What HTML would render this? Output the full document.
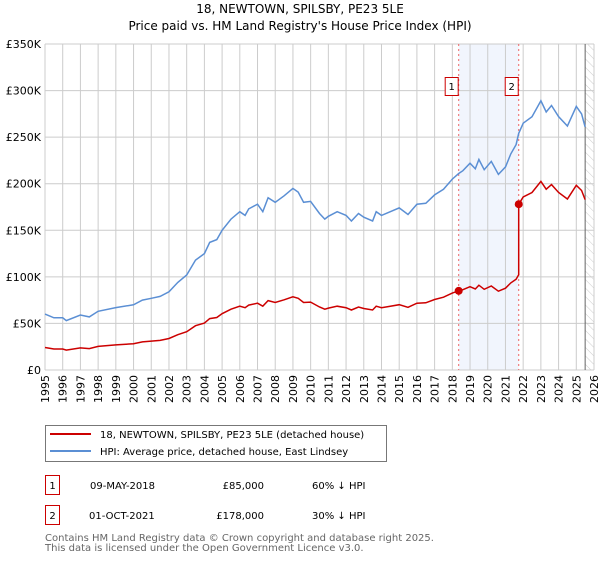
<!DOCTYPE html>
<html><head><meta charset="utf-8">
<style>
body{margin:0;background:#fff;font-family:"DejaVu Sans","Liberation Sans",sans-serif;}
svg text{font-family:"DejaVu Sans","Liberation Sans",sans-serif;}
</style></head>
<body>
<svg id="c" width="600" height="560" xmlns="http://www.w3.org/2000/svg">
<defs>
<pattern id="hatch" width="6" height="6" patternUnits="userSpaceOnUse" patternTransform="rotate(-45)">
<line x1="0" y1="0" x2="0" y2="6" stroke="#ccc" stroke-width="1"/>
</pattern>
</defs>
<text x="300" y="13" font-size="12" text-anchor="middle">18, NEWTOWN, SPILSBY, PE23 5LE</text>
<text x="300" y="30" font-size="12" text-anchor="middle">Price paid vs. HM Land Registry's House Price Index (HPI)</text>
<g id="grid"></g>
<g id="marks"></g>
<g id="axes"></g>
<g>
<rect x="45.5" y="425.5" width="341" height="36" fill="#fff" stroke="#777"/>
<line x1="50" y1="434" x2="91" y2="434" stroke="#cc0000" stroke-width="2"/>
<text x="100" y="438" font-size="10">18, NEWTOWN, SPILSBY, PE23 5LE (detached house)</text>
<line x1="50" y1="451" x2="91" y2="451" stroke="#5b8fd4" stroke-width="2"/>
<text x="100" y="455" font-size="10">HPI: Average price, detached house, East Lindsey</text>
</g>
<g font-size="10">
<rect x="45.5" y="475.5" width="14" height="19" fill="#fff" stroke="#cc0000"/>
<text x="52.5" y="489" text-anchor="middle">1</text>
<text x="90" y="489">09-MAY-2018</text>
<text x="264" y="489" text-anchor="end">£85,000</text>
<text x="312" y="489">60% ↓ HPI</text>
</g>
<g font-size="10">
<rect x="45.5" y="505.5" width="14" height="19" fill="#fff" stroke="#cc0000"/>
<text x="52.5" y="519" text-anchor="middle">2</text>
<text x="89" y="519">01-OCT-2021</text>
<text x="264" y="519" text-anchor="end">£178,000</text>
<text x="312" y="519">30% ↓ HPI</text>
</g>
<text x="45" y="541" font-size="10" fill="#666">Contains HM Land Registry data © Crown copyright and database right 2025.</text>
<text x="45" y="551" font-size="10" fill="#666">This data is licensed under the Open Government Licence v3.0.</text>
</svg>
<script>
const hpiYears=[1995.0,1995.5,1996.0,1996.2,1997.0,1997.5,1998.0,1999.0,2000.0,2000.5,2001.0,2001.5,2002.0,2002.5,2003.0,2003.5,2004.0,2004.3,2004.7,2005.0,2005.5,2006.0,2006.3,2006.5,2007.0,2007.3,2007.6,2008.0,2008.5,2009.0,2009.3,2009.6,2010.0,2010.5,2010.8,2011.0,2011.5,2012.0,2012.3,2012.7,2013.0,2013.5,2013.7,2014.0,2014.5,2015.0,2015.5,2016.0,2016.5,2017.0,2017.5,2018.0,2018.36,2018.6,2019.0,2019.3,2019.5,2019.8,2020.2,2020.6,2021.0,2021.3,2021.6,2021.75,2022.0,2022.5,2023.0,2023.3,2023.6,2024.0,2024.5,2025.0,2025.3,2025.5];
const hpiValues=[60,56,56,53,59,57,63,67,70,75,77,79,84,94,102,118,125,137,140,150,162,170,166,173,178,170,185,180,187,195,191,180,181,168,162,165,170,166,160,168,164,160,170,166,170,174,167,178,179,188,194,205,211,214,222,216,226,215,224,210,218,232,242,254,265,272,289,277,284,272,262,283,275,261];
const saleYears=[2018.36,2021.75];
const salePrices=[85,178];
const saleLabels=["1","2"];
const yTicks=[0,50,100,150,200,250,300,350];
const yTickLabels=["£0","£50K","£100K","£150K","£200K","£250K","£300K","£350K"];
const xTicks=[1995,1996,1997,1998,1999,2000,2001,2002,2003,2004,2005,2006,2007,2008,2009,2010,2011,2012,2013,2014,2015,2016,2017,2018,2019,2020,2021,2022,2023,2024,2025,2026];
const dataEnd=2025.5;

const X0=45,X1=594,Y0=370,Y1=44;
const xs=y=>X0+(y-1995)/(2026-1995)*(X1-X0);
const ys=v=>Y0-v/350*(Y0-Y1);
const NS="http://www.w3.org/2000/svg";
function mk(parent,tag,attrs){const e=document.createElementNS(NS,tag);for(const k in attrs)e.setAttribute(k,attrs[k]);document.getElementById(parent).appendChild(e);return e;}

let r=mk('grid','rect',{x:xs(saleYears[0]),y:Y1,width:xs(saleYears[1])-xs(saleYears[0]),height:Y0-Y1,fill:'#eef3fc',opacity:0.8});


let h=mk('grid','rect',{x:xs(dataEnd),y:Y1,width:X1-xs(dataEnd),height:Y0-Y1,fill:'url(#hatch)'});


yTicks.forEach((t,i)=>{
 let l=mk('grid','line',{x1:X0,x2:X1,y1:ys(t),y2:ys(t),stroke:'#ccc','stroke-width':1});
 
 
 let tx=mk('axes','text',{x:X0-4,y:ys(t)+4,'font-size':11,'text-anchor':'end'});
 tx.textContent=yTickLabels[i];
 
 
});
xTicks.forEach(t=>{
 let l=mk('grid','line',{x1:xs(t),x2:xs(t),y1:Y1,y2:Y0,stroke:'#ccc','stroke-width':1});
 
 
 let tx=mk('axes','text',{x:0,y:0,'font-size':11,'text-anchor':'end',transform:`translate(${xs(t)+4},${Y0+5}) rotate(-90)`});
 tx.textContent=t;
 
 
});
let el=mk('grid','line',{x1:xs(dataEnd),x2:xs(dataEnd),y1:Y1,y2:Y0,stroke:'#666','stroke-width':1});


saleYears.forEach((s,i)=>{
 let l=mk('grid','line',{x1:xs(s),x2:xs(s),y1:Y1,y2:Y0,stroke:'#e66','stroke-width':1,'stroke-dasharray':'2,3'});
 
 
 let b=mk('axes','rect',{x:xs(s)-13.5,y:77.5,width:13,height:18,fill:'#fff',stroke:'#cc0000'});
 
 
 let t=mk('axes','text',{x:xs(s)-7,y:90,'font-size':10,'text-anchor':'middle'});
 t.textContent=saleLabels[i];
 
 
});
function hpiAt(y){for(let i=0;i<hpiYears.length-1;i++){if(y>=hpiYears[i]&&y<=hpiYears[i+1]){const f=(y-hpiYears[i])/(hpiYears[i+1]-hpiYears[i]);return hpiValues[i]+f*(hpiValues[i+1]-hpiValues[i]);}}return hpiValues[hpiValues.length-1];}
const hp=hpiYears.map((y,i)=>xs(y).toFixed(1)+','+ys(hpiValues[i]).toFixed(1)).join(' ');
let hl=mk('marks','polyline',{points:hp,fill:'none',stroke:'#5b8fd4','stroke-width':1.5});


const r1=salePrices[0]/hpiAt(saleYears[0]),r2=salePrices[1]/hpiAt(saleYears[1]);
let pts=[];
hpiYears.forEach((y,i)=>{
 if(y<saleYears[1]) pts.push([y,hpiValues[i]*r1]);
 if(y===saleYears[1]) pts.push([y,hpiValues[i]*r1]);
});
if(!hpiYears.includes(saleYears[1])) pts.push([saleYears[1],hpiAt(saleYears[1])*r1]);
pts.push([saleYears[1],salePrices[1]]);
hpiYears.forEach((y,i)=>{if(y>saleYears[1]) pts.push([y,hpiValues[i]*r2]);});
let pl=mk('marks','polyline',{points:pts.map(p=>xs(p[0]).toFixed(1)+','+ys(p[1]).toFixed(1)).join(' '),fill:'none',stroke:'#cc0000','stroke-width':1.5});


saleYears.forEach((s,i)=>{
 let c=mk('marks','circle',{cx:xs(s),cy:ys(salePrices[i]),r:4,fill:'#cc0000'});
 
 
});
</script>
</body></html>
